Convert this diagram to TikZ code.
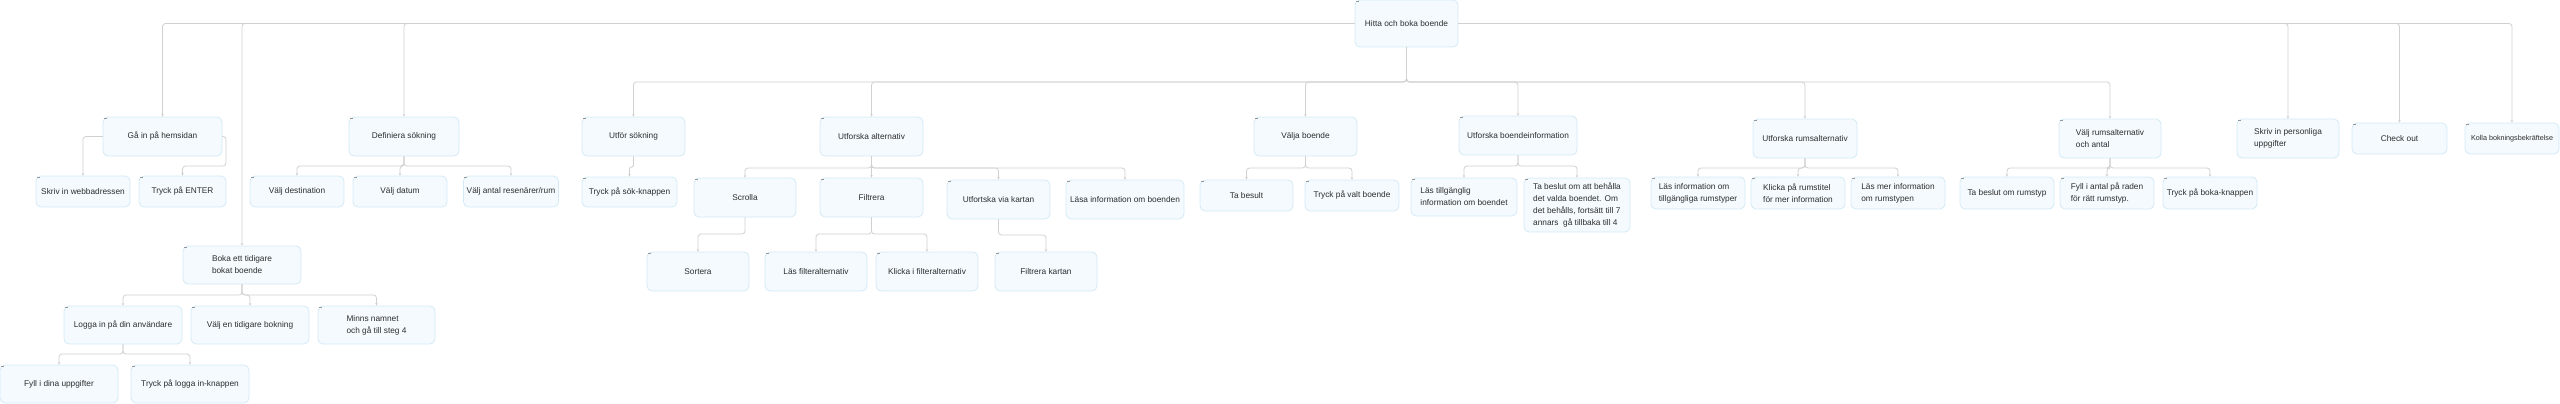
\documentclass[tikz,border=0pt]{standalone}
\usepackage{fontspec}
\setmainfont{Liberation Sans}
\usetikzlibrary{arrows.meta}
\definecolor{boxfill}{RGB}{244,250,254}
\definecolor{boxline}{RGB}{212,234,247}
\definecolor{linkgray}{RGB}{208,208,208}
\definecolor{textgray}{RGB}{45,45,45}
\definecolor{tickgray}{RGB}{150,150,150}
\tikzset{
  box/.style={draw=boxline, fill=boxfill, rounded corners=5pt, line width=0.8pt, text=textgray, align=left, inner sep=2pt, font=\fontsize{8.3}{12}\selectfont},
  wide/.style={box, minimum width=118pt, minimum height=38pt},
  mid/.style={box, minimum width=103pt, minimum height=39pt},
  small/.style={box, minimum width=94pt, minimum height=31pt},
  link/.style={draw=linkgray, line width=0.8pt, rounded corners=3pt, -{Stealth[length=2.5pt,width=2.5pt]}},
}
\begin{document}
\begin{tikzpicture}[x=1pt, y=-1pt, line join=round, line cap=round]
\useasboundingbox (0,0) rectangle (2560,404);
% nivå 1
\node[mid, minimum height=47pt] (root) at (1406.5,23.5) {Hitta och boka boende};
% nivå 2
\node[wide, minimum width=119pt, minimum height=39pt] (gain) at (162.5,136.5) {Gå in på hemsidan};
\node[box, minimum width=110pt, minimum height=39pt] (def) at (404,136.5) {Definiera sökning};
\node[wide] (boka) at (242,265) {Boka ett tidigare\\bokat boende};
\node[mid] (utfor) at (633.5,136.5) {Utför sökning};
\node[mid] (alt) at (871.5,136.5) {Utforska alternativ};
\node[mid] (valja) at (1305.5,136.5) {Välja boende};
\node[wide, minimum height=39pt] (boinfo) at (1518,135.5) {Utforska boendeinformation};
\node[mid, minimum width=104pt] (rumsalt) at (1805,138.5) {Utforska rumsalternativ};
\node[mid, minimum width=102pt] (valjrum) at (2110,138.5) {Välj rumsalternativ\\ och antal};
\node[mid, minimum width=102pt] (personlig) at (2288,138.5) {Skriv in personliga\\uppgifter};
\node[small, minimum width=95pt] (checkout) at (2399.5,138.5) {Check out};
\node[small, font=\fontsize{7.2}{10}\selectfont] (kolla) at (2512,138.5) {Kolla bokningsbekräftelse};
% nivå 3
\node[small] (skriv) at (83,191.5) {Skriv in webbadressen};
\node[small, minimum width=87pt] (enter) at (182.5,191.5) {Tryck på ENTER};
\node[small] (dest) at (297,191.5) {Välj destination};
\node[small] (datum) at (400,191.5) {Välj datum};
\node[small, minimum width=95pt] (antal) at (511,191.5) {Välj antal resenärer/rum};
\node[small, minimum width=95pt, minimum height=30pt] (sok) at (629.5,192) {Tryck på sök-knappen};
\node[mid, minimum width=102pt] (scroll) at (745,197.5) {Scrolla};
\node[mid] (filt) at (871.5,197.5) {Filtrera};
\node[mid] (karta) at (998.5,199.5) {Utfortska via kartan};
\node[wide, minimum height=39pt] (lasa) at (1125,199.5) {Läsa information om boenden};
\node[small, minimum width=93pt] (besult) at (1246.5,195.5) {Ta besult};
\node[small] (valt) at (1352,195.5) {Tryck på valt boende};
\node[box, minimum width=106pt, minimum height=38pt] (lastill) at (1464,197) {Läs tillgänglig\\information om boendet};
\node[box, minimum width=106pt, minimum height=54pt] (beslut) at (1577,205) {Ta beslut om att behålla\\det valda boendet. Om\\det behålls, fortsätt till 7\\annars~ gå tillbaka till 4};
\node[small, minimum height=32pt] (rumtyp) at (1698,193) {Läs information om\\tillgängliga rumstyper};
\node[small, minimum height=32pt] (rumtitel) at (1798,193) {Klicka på rumstitel\\för mer information};
\node[small, minimum height=32pt] (rummer) at (1898,193) {Läs mer information\\ om rumstypen};
\node[small, minimum height=32pt] (rumbeslut) at (2007,193) {Ta beslut om rumstyp};
\node[small, minimum height=32pt] (fyllantal) at (2107,193) {Fyll i antal på raden\\ för rätt rumstyp.};
\node[small, minimum height=32pt] (bokaknapp) at (2210,193) {Tryck på boka-knappen};
\node[wide] (logga) at (123,325) {Logga in på din användare};
\node[wide] (tidig) at (250,325) {Välj en tidigare bokning};
\node[wide, minimum width=117pt] (minns) at (376.5,325) {Minns namnet\\och gå till steg 4};
% nivå 4
\node[mid, minimum width=102pt] (sort) at (698,271.5) {Sortera};
\node[mid, minimum width=102pt] (lasfilt) at (816,271.5) {Läs filteralternativ};
\node[mid, minimum width=102pt] (klickfilt) at (927,271.5) {Klicka i filteralternativ};
\node[mid, minimum width=102pt] (filtkarta) at (1046,271.5) {Filtrera kartan};
\node[wide] (fyll) at (59,384) {Fyll i dina uppgifter};
\node[wide] (knapp) at (190,384) {Tryck på logga in-knappen};

\foreach \n in {root,gain,def,boka,utfor,alt,valja,boinfo,rumsalt,valjrum,personlig,checkout,kolla,
  skriv,enter,dest,datum,antal,sok,scroll,filt,karta,lasa,besult,valt,lastill,beslut,rumtyp,rumtitel,
  rummer,rumbeslut,fyllantal,bokaknapp,logga,tidig,minns,sort,lasfilt,klickfilt,filtkarta,fyll,knapp}
  \fill[tickgray] ([shift={(1,1)}]\n.north west) rectangle ++(3,0.8);

\path
(1406.5,82) coordinate (rootbus)
(226,166) coordinate (gainbus)
(404,166) coordinate (defbus)
(242,295) coordinate (bokabus)
(123,354) coordinate (loggabus)
(633.5,167) coordinate (utforbus)
(871.5,168) coordinate (altbus)
(745,234) coordinate (scrollbus)
(871.5,234) coordinate (filtbus)
(998.5,235) coordinate (kartabus)
(1305.5,168) coordinate (valjabus)
(1518,166) coordinate (boinfobus)
(1805,168) coordinate (rumsaltbus)
(2110,168) coordinate (valjrumbus)
;
% från roten
\draw[link] (root.west) -| (gain.north);
\draw[link] (root.west) -| (boka.north);
\draw[link] (root.west) -| (def.north);
\draw[link] (root.east) -| (personlig.north);
\draw[link] (root.east) -| (checkout.north);
\draw[link] (root.east) -| (kolla.north);
\foreach \c in {utfor,alt,valja,boinfo,rumsalt,valjrum}
  \draw[link] (root.south) -- (rootbus) -| (\c.north);
% undernivåer
\draw[link] (gain.west) -| (skriv.north);
\draw[link] (gain.east) -| (gainbus) -| (enter.north);
\foreach \c in {dest,datum,antal}
  \draw[link] (def.south) -- (defbus) -| (\c.north);
\foreach \c in {logga,tidig,minns}
  \draw[link] (boka.south) -- (bokabus) -| (\c.north);
\foreach \c in {fyll,knapp}
  \draw[link] (logga.south) -- (loggabus) -| (\c.north);
\draw[link, rounded corners=1.5pt] (utfor.south) -- (utforbus) -| (sok.north);
\foreach \c in {scroll,filt,karta,lasa}
  \draw[link] (alt.south) -- (altbus) -| (\c.north);
\draw[link] (scroll.south) -- (scrollbus) -| (sort.north);
\foreach \c in {lasfilt,klickfilt}
  \draw[link] (filt.south) -- (filtbus) -| (\c.north);
\draw[link] (karta.south) -- (kartabus) -| (filtkarta.north);
\foreach \c in {besult,valt}
  \draw[link] (valja.south) -- (valjabus) -| (\c.north);
\foreach \c in {lastill,beslut}
  \draw[link] (boinfo.south) -- (boinfobus) -| (\c.north);
\foreach \c in {rumtyp,rumtitel,rummer}
  \draw[link] (rumsalt.south) -- (rumsaltbus) -| (\c.north);
\foreach \c in {rumbeslut,fyllantal,bokaknapp}
  \draw[link] (valjrum.south) -- (valjrumbus) -| (\c.north);
\end{tikzpicture}
\end{document}
